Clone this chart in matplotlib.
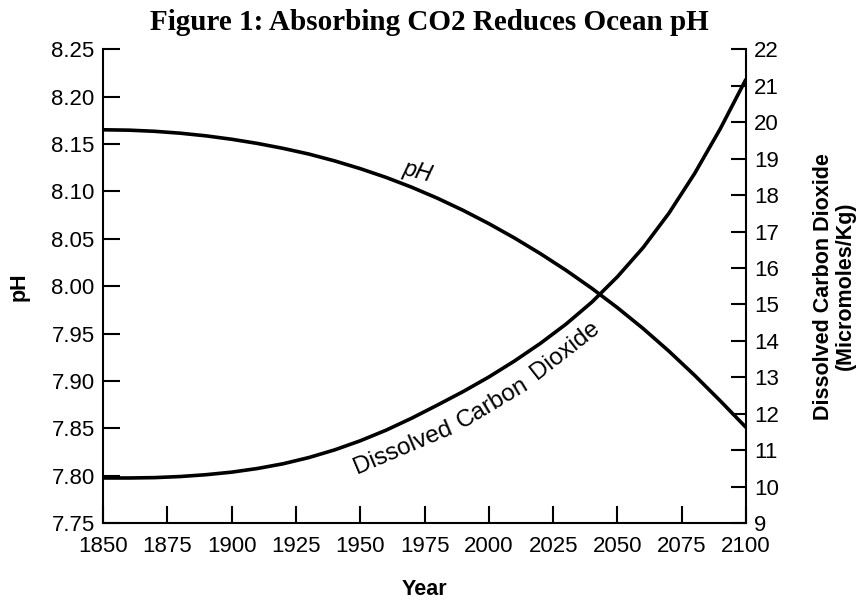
import matplotlib
matplotlib.use("Agg")
import matplotlib.pyplot as plt

plt.rcParams["font.family"] = ["Liberation Sans", "DejaVu Sans"]

# values (10-year steps)
years = [1850, 1860, 1870, 1880, 1890, 1900, 1910, 1920, 1930, 1940, 1950, 1960, 1970,
         1980, 1990, 2000, 2010, 2020, 2030, 2040, 2050, 2060, 2070, 2080, 2090, 2100]
ph = [8.165, 8.1646, 8.1634, 8.1614, 8.1586, 8.155, 8.1506, 8.1454, 8.1394, 8.1322, 8.124,
      8.1148, 8.1044, 8.0928, 8.080, 8.066, 8.0508, 8.0344, 8.0168, 7.9978, 7.9773, 7.9553,
      7.9315, 7.906, 7.879, 7.851]
co2 = [10.24, 10.24, 10.25, 10.28, 10.33, 10.40, 10.50, 10.63, 10.80, 11.01, 11.26, 11.55,
       11.88, 12.24, 12.61, 13.01, 13.45, 13.93, 14.46, 15.06, 15.76, 16.56, 17.50, 18.59,
       19.82, 21.18]

x_ticks = [1850, 1875, 1900, 1925, 1950, 1975, 2000, 2025, 2050, 2075, 2100]
ph_ticks = [7.75, 7.80, 7.85, 7.90, 7.95, 8.00, 8.05, 8.10, 8.15, 8.20, 8.25]
co2_ticks = list(range(9, 23))

fig = plt.figure(figsize=(8.59, 6.00), dpi=100)
ax = fig.add_axes([0.12, 0.128, 0.7485, 0.79])
ax2 = ax.twinx()

ax.plot(years, ph, color="black", lw=2.6, solid_capstyle="butt")
ax2.plot(years, co2, color="black", lw=2.6, solid_capstyle="butt")

ax.set_xlim(1850, 2100)
ax.set_ylim(7.75, 8.25)
ax2.set_ylim(9, 22)
ax.set_xticks(x_ticks)
ax.set_yticks(ph_ticks)
ax.set_yticklabels([f"{v:.2f}" for v in ph_ticks])
ax2.set_yticks(co2_ticks)

for a in (ax, ax2):
    a.spines["top"].set_visible(False)
    for s in a.spines.values():
        s.set_linewidth(1.5)
ax.spines["right"].set_visible(False)
ax2.spines["left"].set_visible(False)
ax2.spines["bottom"].set_visible(False)

ax.tick_params(axis="y", direction="in", length=12, width=1.5, labelsize=16, pad=6)
ax.tick_params(axis="x", direction="in", length=12, width=1.5, labelsize=16, pad=9)
ax2.tick_params(axis="y", direction="in", length=11, width=1.5, labelsize=16, pad=6)

ax.set_xlabel("Year", fontsize=15.5, fontweight="bold", labelpad=16)
ax.set_ylabel("pH", fontsize=15.5, fontweight="bold", labelpad=16)
ax2.set_ylabel("Dissolved Carbon Dioxide\n(Micromoles/Kg)", fontsize=15.5,
               fontweight="bold", labelpad=24, linespacing=1.05)

# curve labels
ax.text(1972.5, 8.121, "pH", fontsize=16.5, style="italic", rotation=-15,
        ha="center", va="center")
for word, yr, val, rot in [("Dissolved", 1948.8, 10.35, 23),
                           ("Carbon", 1989.5, 11.57, 31),
                           ("Dioxide", 2018.6, 12.93, 38)]:
    ax2.text(yr, val, word, fontsize=17.5, rotation=rot, ha="left", va="baseline",
             rotation_mode="anchor")

fig.text(0.5, 0.962, "Figure 1: Absorbing CO2 Reduces Ocean pH", ha="center", va="center",
         fontsize=21, fontweight="bold", family="Liberation Serif")

fig.savefig("out.png", dpi=100)
